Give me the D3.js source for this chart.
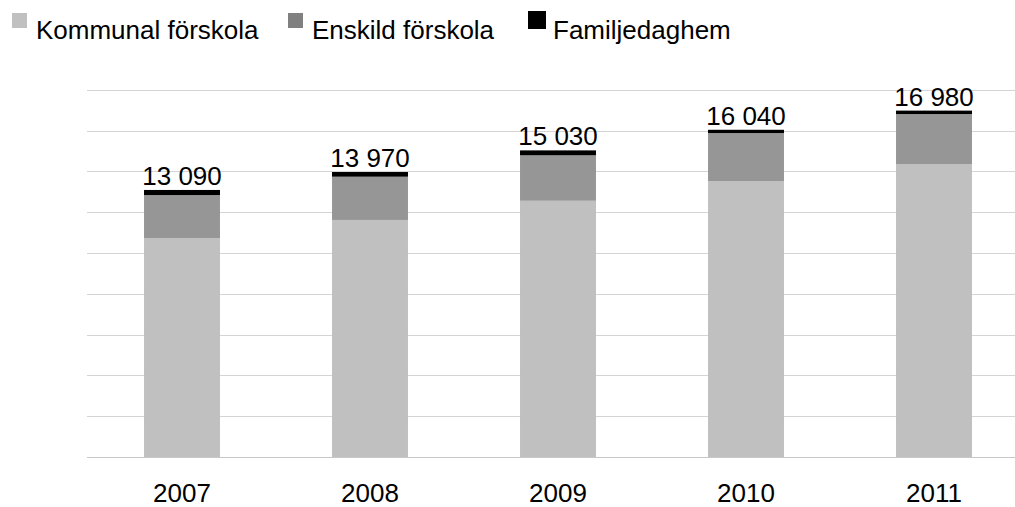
<!DOCTYPE html>
<html>
<head>
<meta charset="utf-8">
<script src="https://cdn.jsdelivr.net/npm/d3@7"></script>
<style>
  body { margin: 0; background: #fff; }
  svg { display: block; font-family: "Liberation Sans", Arial, sans-serif; }
</style>
</head>
<body>
<div id="chart"></div>
<script>
const years = ['2007', '2008', '2009', '2010', '2011'];
const kommunal = [10720, 11620, 12560, 13530, 14360];
const enskild = [2120, 2120, 2230, 2350, 2450];
const familjedaghem = [250, 230, 240, 160, 170];
const totals = ['13 090', '13 970', '15 030', '16 040', '16 980'];
const seriesNames = ['Kommunal förskola', 'Enskild förskola', 'Familjedaghem'];
const yTicks = [0, 2000, 4000, 6000, 8000, 10000, 12000, 14000, 16000, 18000];

const colors = ['#c0c0c0', '#969696', '#000000'];
const width = 1015, height = 507;

const svg = d3.select('#chart')
    .append('svg')
    .attr('width', width)
    .attr('height', height);

const x = d3.scaleBand()
    .domain(years)
    .range([88, 1028])
    .paddingInner(0.596)
    .paddingOuter(0.298);

const y = d3.scaleLinear()
    .domain([0, 18000])
    .range([457, 89.8]);

// gridlines
svg.append('g')
    .selectAll('line')
    .data(yTicks)
    .enter()
    .append('line')
    .attr('x1', 87)
    .attr('x2', width)
    .attr('y1', d => Math.round(y(d)) + 0.5)
    .attr('y2', d => Math.round(y(d)) + 0.5)
    .attr('stroke', d => d === 0 ? '#c8c8c8' : '#d4d4d4')
    .attr('stroke-width', 1);

const rows = years.map((yr, i) => ({
    year: yr,
    'Kommunal förskola': kommunal[i],
    'Enskild förskola': enskild[i],
    'Familjedaghem': familjedaghem[i]
}));
const stacked = d3.stack().keys(seriesNames)(rows);

svg.append('g')
    .selectAll('g')
    .data(stacked)
    .enter()
    .append('g')
    .attr('fill', (d, i) => colors[i])
    .selectAll('rect')
    .data(d => d)
    .enter()
    .append('rect')
    .attr('x', d => x(d.data.year))
    .attr('y', d => y(d[1]))
    .attr('width', x.bandwidth())
    .attr('height', d => y(d[0]) - y(d[1]));

// total labels
svg.append('g')
    .selectAll('text')
    .data(years)
    .enter()
    .append('text')
    .attr('x', d => x(d) + x.bandwidth() / 2)
    .attr('y', (d, i) => y(kommunal[i] + enskild[i] + familjedaghem[i]) - 5)
    .attr('text-anchor', 'middle')
    .style('font-size', '26px')
    .style('fill', '#000')
    .text((d, i) => totals[i]);

// x axis labels
svg.append('g')
    .selectAll('text')
    .data(years)
    .enter()
    .append('text')
    .attr('x', d => x(d) + x.bandwidth() / 2)
    .attr('y', 502)
    .attr('text-anchor', 'middle')
    .style('font-size', '26px')
    .style('fill', '#000')
    .text(d => d);

// legend
const legendX = [12, 288, 528];
const legend = svg.append('g')
    .selectAll('g')
    .data(seriesNames)
    .enter()
    .append('g')
    .attr('transform', (d, i) => `translate(${legendX[i]},0)`);

legend.append('rect')
    .attr('x', 0)
    .attr('y', (d, i) => i === 2 ? 11 : 13)
    .attr('width', (d, i) => i === 2 ? 18 : 15)
    .attr('height', (d, i) => i === 2 ? 18 : 15)
    .attr('fill', (d, i) => i === 1 ? '#808080' : colors[i]);

legend.append('text')
    .attr('x', (d, i) => i === 2 ? 25 : 24)
    .attr('y', 39)
    .style('font-size', '26px')
    .style('fill', '#000')
    .text(d => d);
</script>
</body>
</html>
